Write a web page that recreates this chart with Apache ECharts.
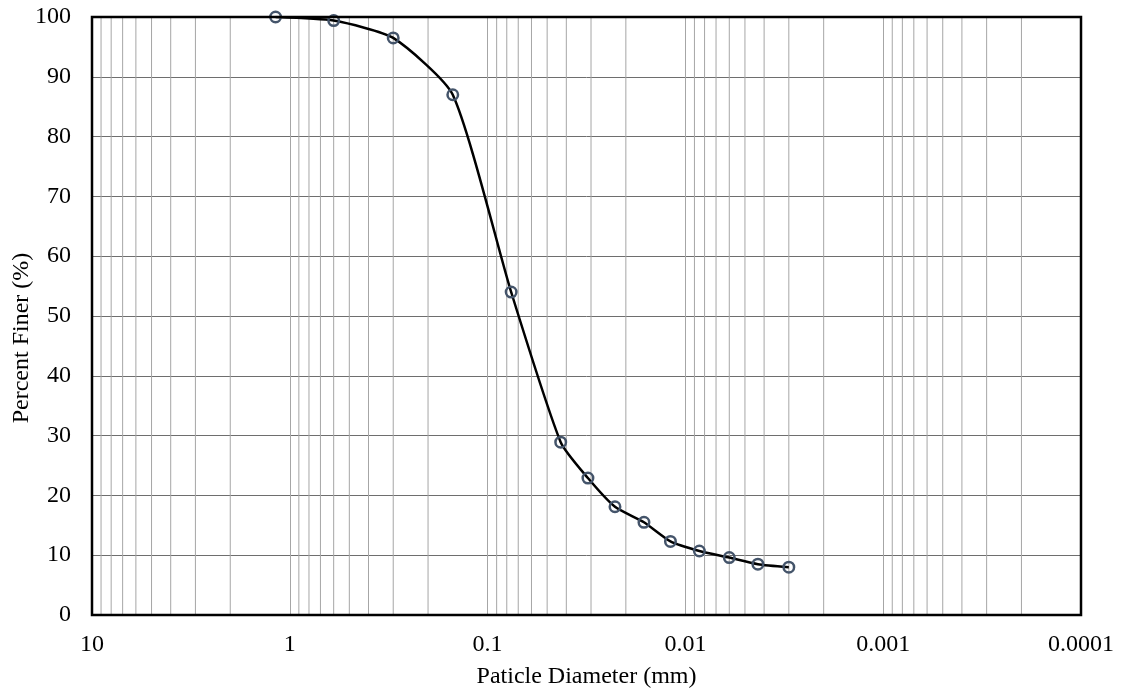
<!DOCTYPE html>
<html>
<head>
<meta charset="utf-8">
<script src="https://cdn.jsdelivr.net/npm/echarts@6/dist/echarts.min.js"></script>
<style>
  html, body { margin: 0; padding: 0; background: #fff; }
  #chart { width: 1124px; height: 698px; }
</style>
</head>
<body>
<div id="chart"></div>
<script>
// Grain size distribution: particle diameter (mm) vs percent finer (%)
const diameters = [1.18, 0.6, 0.3, 0.15, 0.076, 0.0427, 0.0311, 0.0227, 0.0162, 0.0119, 0.0085, 0.0060, 0.0043, 0.0030];
const percentFiner = [100, 99.4, 96.5, 87.0, 54.0, 28.9, 22.9, 18.1, 15.5, 12.3, 10.7, 9.6, 8.5, 8.0];
const xTickLabels = ['10', '1', '0.1', '0.01', '0.001', '0.0001'];
const yTicks = [0, 10, 20, 30, 40, 50, 60, 70, 80, 90, 100];

const FONT = '"Liberation Serif", "Times New Roman", serif';

// Minor log grid lines at 2..9 x 10^k inside each decade
const decades = [1, 0.1, 0.01, 0.001, 0.0001];
const minorLines = [];
decades.forEach(function (d) {
  for (let m = 2; m <= 9; m++) minorLines.push([+(m * d).toPrecision(3)]);
});

const chart = echarts.init(document.getElementById('chart'), null, { renderer: 'canvas' });

chart.setOption({
  animation: false,
  backgroundColor: '#ffffff',
  grid: { left: 92, right: 43, top: 17, bottom: 83, containLabel: false, outerBoundsMode: 'none' },
  xAxis: {
    type: 'log',
    logBase: 10,
    inverse: true,
    min: 0.0001,
    max: 10,
    name: 'Paticle Diameter (mm)',
    nameLocation: 'middle',
    nameGap: 50,
    nameMoveOverlap: false,
    nameTextStyle: { fontFamily: FONT, fontSize: 24, color: '#000' },
    axisLine: { show: false },
    axisTick: { show: false },
    axisLabel: {
      fontFamily: FONT, fontSize: 24, color: '#000', margin: 18,
      formatter: function (v) {
        const i = Math.round(1 - Math.log10(v));
        return xTickLabels[i] !== undefined ? xTickLabels[i] : '';
      }
    },
    splitLine: { show: true, lineStyle: { color: '#a6a6a6', width: 1 } }
  },
  yAxis: {
    type: 'value',
    min: yTicks[0],
    max: yTicks[yTicks.length - 1],
    interval: 10,
    name: 'Percent Finer (%)',
    nameLocation: 'middle',
    nameGap: 58,
    nameMoveOverlap: false,
    nameTextStyle: { fontFamily: FONT, fontSize: 24, color: '#000', padding: [0, 44, 0, 0] },
    axisLine: { show: false },
    axisTick: { show: false },
    axisLabel: { fontFamily: FONT, fontSize: 24, color: '#000', margin: 21 },
    splitLine: { show: true, lineStyle: { color: '#6e6e6e', width: 1 } }
  },
  series: [
    {
      // minor vertical grid lines
      type: 'custom',
      silent: true,
      data: minorLines,
      encode: { x: 0 },
      renderItem: function (params, api) {
        const v = api.value(0);
        const p0 = api.coord([v, yTicks[0]]);
        const p1 = api.coord([v, yTicks[yTicks.length - 1]]);
        return {
          type: 'line',
          shape: { x1: p0[0], y1: p0[1], x2: p1[0], y2: p1[1] },
          style: { stroke: '#a6a6a6', lineWidth: 1 }
        };
      },
      z: 1
    },
    {
      type: 'line',
      data: diameters.map(function (d, i) { return [d, percentFiner[i]]; }),
      smooth: 0.2,
      symbol: 'circle',
      symbolSize: 10.5,
      lineStyle: { color: '#000', width: 2.5 },
      itemStyle: { color: 'rgba(0,0,0,0)', borderColor: '#44546A', borderWidth: 2.5 },
      z: 5
    }
  ],
  graphic: [
    {
      // plot frame
      type: 'rect',
      shape: { x: 92, y: 17, width: 1081 - 92, height: 615 - 17 },
      style: { fill: 'none', stroke: '#000', lineWidth: 2.5 },
      z: 10,
      silent: true
    }
  ]
});
</script>
</body>
</html>
